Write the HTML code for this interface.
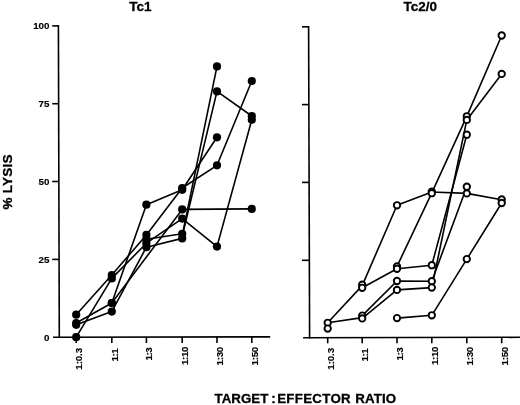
<!DOCTYPE html>
<html><head><meta charset="utf-8"><title>Tc1 / Tc2/0 lysis</title>
<style>
html,body{margin:0;padding:0;background:#fff;}
body{width:520px;height:405px;overflow:hidden;}
svg{display:block;will-change:transform;}
text{font-family:"Liberation Sans",sans-serif;font-weight:bold;fill:#000;}
.ax{stroke:#000;stroke-width:1.6;fill:none;stroke-linecap:butt;}
.ln{stroke:#000;stroke-width:1.6;fill:none;stroke-linejoin:round;}
.fc{fill:#000;stroke:none;}
.oc{fill:#fff;stroke:#000;stroke-width:1.9;}
.tk{font-size:9.8px;stroke:#000;stroke-width:0.15px;}
.tt{font-size:13.5px;stroke:#000;stroke-width:0.3px;}
</style></head><body>
<svg width="520" height="405" viewBox="0 0 520 405">
<rect width="520" height="405" fill="#fff"/>

<path class="ax" d="M58.4,25 L59.3,338"/>
<path class="ax" d="M53,337.2 L270.2,336.9"/>
<path class="ax" d="M52.2,25.9 L59,25.9"/>
<path class="ax" d="M52.2,103.7 L59,103.7"/>
<path class="ax" d="M52.2,181.5 L59,181.5"/>
<path class="ax" d="M52.2,259.4 L59,259.4"/>
<path class="ax" d="M76.2,337 L76.2,343"/>
<path class="ax" d="M111.8,337 L111.8,343"/>
<path class="ax" d="M146.4,337 L146.4,343"/>
<path class="ax" d="M182.2,337 L182.2,343"/>
<path class="ax" d="M217.0,337 L217.0,343"/>
<path class="ax" d="M251.8,337 L251.8,343"/>
<path class="ax" d="M308.6,26 L309.6,338.6"/>
<path class="ax" d="M303.1,337.8 L520,337.3"/>
<path class="ax" d="M302,26.8 L309,26.8"/>
<path class="ax" d="M302,104.6 L309,104.6"/>
<path class="ax" d="M302,182.4 L309,182.4"/>
<path class="ax" d="M302,260.3 L309,260.3"/>
<path class="ax" d="M327.7,337.5 L327.7,343.3"/>
<path class="ax" d="M362.2,337.5 L362.2,343.3"/>
<path class="ax" d="M397.0,337.5 L397.0,343.3"/>
<path class="ax" d="M431.8,337.5 L431.8,343.3"/>
<path class="ax" d="M466.8,337.5 L466.8,343.3"/>
<path class="ax" d="M501.7,337.5 L501.7,343.3"/>
<text class="tk" x="49.5" y="29.0" text-anchor="end">100</text>
<text class="tk" x="49.5" y="106.89999999999999" text-anchor="end">75</text>
<text class="tk" x="49.5" y="185.0" text-anchor="end">50</text>
<text class="tk" x="49.5" y="262.90000000000003" text-anchor="end">25</text>
<text class="tk" x="49.5" y="340.6" text-anchor="end">0</text>
<text class="tk" transform="translate(82.10000000000001,348.05) rotate(-90)" text-anchor="end" letter-spacing="-0.15">1:0.3</text>
<text class="tk" transform="translate(117.7,349.0) rotate(-90)" text-anchor="end" letter-spacing="-0.6">1:1</text>
<text class="tk" transform="translate(152.3,347.6) rotate(-90)" text-anchor="end" letter-spacing="-0.4">1:3</text>
<text class="tk" transform="translate(188.1,347.0) rotate(-90)" text-anchor="end" letter-spacing="-0.4">1:10</text>
<text class="tk" transform="translate(222.9,347.0) rotate(-90)" text-anchor="end" letter-spacing="-0.3">1:30</text>
<text class="tk" transform="translate(257.7,347.0) rotate(-90)" text-anchor="end" letter-spacing="-0.3">1:50</text>
<text class="tk" transform="translate(333.59999999999997,348.05) rotate(-90)" text-anchor="end" letter-spacing="-0.15">1:0.3</text>
<text class="tk" transform="translate(368.09999999999997,349.0) rotate(-90)" text-anchor="end" letter-spacing="-0.6">1:1</text>
<text class="tk" transform="translate(402.9,347.6) rotate(-90)" text-anchor="end" letter-spacing="-0.4">1:3</text>
<text class="tk" transform="translate(437.7,347.0) rotate(-90)" text-anchor="end" letter-spacing="-0.4">1:10</text>
<text class="tk" transform="translate(472.7,347.0) rotate(-90)" text-anchor="end" letter-spacing="-0.3">1:30</text>
<text class="tk" transform="translate(507.59999999999997,347.0) rotate(-90)" text-anchor="end" letter-spacing="-0.3">1:50</text>
<text class="tt" x="140.5" y="11.2" text-anchor="middle">Tc1</text>
<text class="tt" x="420.2" y="11.2" text-anchor="middle">Tc2/0</text>
<text class="tt" transform="translate(11.5,209.6) rotate(-90)" textLength="55" lengthAdjust="spacing">% LYSIS</text>
<text class="tt" y="403.3" style="font-size:13.3px"><tspan x="214.6">TARGET</tspan><tspan x="271.2">:</tspan><tspan x="277.2" letter-spacing="0.3">EFFECTOR</tspan><tspan x="355.2" letter-spacing="0.15">RATIO</tspan></text>
<path class="ln" d="M76.2,314.7 L111.8,275.0 L146.4,234.9 L182.2,188.0 L217.0,165.3 L251.8,81.0"/>
<path class="ln" d="M76.2,323.0 L111.8,303.0 L182.2,209.4 L251.8,208.9"/>
<path class="ln" d="M76.2,337.2 L111.8,278.4 L146.4,243.2 L182.2,218.6 L217.0,246.6 L251.8,119.7"/>
<path class="ln" d="M76.2,324.8 L111.8,311.6 L146.4,247.2 L182.2,238.4"/>
<path class="ln" d="M111.8,303.0 L146.4,204.7 L182.2,189.8 L217.0,137.3"/>
<path class="ln" d="M146.4,239.3 L182.2,233.8"/>
<path class="ln" d="M182.2,236.2 L217.0,91.4 L251.8,116.0"/>
<path class="ln" d="M182.2,235.6 L217.0,66.4"/>
<circle class="fc" cx="76.2" cy="314.7" r="4.1"/>
<circle class="fc" cx="111.8" cy="275.0" r="4.1"/>
<circle class="fc" cx="146.4" cy="234.9" r="4.1"/>
<circle class="fc" cx="182.2" cy="188.0" r="4.1"/>
<circle class="fc" cx="217.0" cy="165.3" r="4.1"/>
<circle class="fc" cx="251.8" cy="81.0" r="4.1"/>
<circle class="fc" cx="76.2" cy="323.0" r="4.1"/>
<circle class="fc" cx="111.8" cy="303.0" r="4.1"/>
<circle class="fc" cx="182.2" cy="209.4" r="4.1"/>
<circle class="fc" cx="251.8" cy="208.9" r="4.1"/>
<circle class="fc" cx="76.2" cy="337.2" r="4.1"/>
<circle class="fc" cx="111.8" cy="278.4" r="4.1"/>
<circle class="fc" cx="146.4" cy="243.2" r="4.1"/>
<circle class="fc" cx="182.2" cy="218.6" r="4.1"/>
<circle class="fc" cx="217.0" cy="246.6" r="4.1"/>
<circle class="fc" cx="251.8" cy="119.7" r="4.1"/>
<circle class="fc" cx="76.2" cy="324.8" r="4.1"/>
<circle class="fc" cx="111.8" cy="311.6" r="4.1"/>
<circle class="fc" cx="146.4" cy="247.2" r="4.1"/>
<circle class="fc" cx="182.2" cy="238.4" r="4.1"/>
<circle class="fc" cx="111.8" cy="303.0" r="4.1"/>
<circle class="fc" cx="146.4" cy="204.7" r="4.1"/>
<circle class="fc" cx="182.2" cy="189.8" r="4.1"/>
<circle class="fc" cx="217.0" cy="137.3" r="4.1"/>
<circle class="fc" cx="146.4" cy="239.3" r="4.1"/>
<circle class="fc" cx="182.2" cy="233.8" r="4.1"/>
<circle class="fc" cx="217.0" cy="91.4" r="4.1"/>
<circle class="fc" cx="251.8" cy="116.0" r="4.1"/>
<circle class="fc" cx="217.0" cy="66.4" r="4.1"/>
<path class="ln" d="M327.7,322.8 L362.2,285.6 L397.0,205.3 L431.8,192.0 L466.8,193.4 L501.7,199.8"/>
<path class="ln" d="M362.2,287.8 L397.0,268.8 L431.8,265.2 L466.8,134.7"/>
<path class="ln" d="M397.0,266.4 L431.8,192.8 L466.8,116.3 L501.7,35.5"/>
<path class="ln" d="M327.7,322.8 L362.2,317.6"/>
<path class="ln" d="M362.2,315.6 L397.0,281.0 L431.8,281.2 L466.8,186.7"/>
<path class="ln" d="M362.2,318.4 L397.0,289.9 L431.8,287.6 L466.8,119.9 L501.7,73.9"/>
<path class="ln" d="M397.0,318.1 L431.8,315.3 L466.8,259.1 L501.7,203.0"/>
<circle class="oc" cx="327.7" cy="322.8" r="3.2"/>
<circle class="oc" cx="327.7" cy="328.6" r="3.2"/>
<circle class="oc" cx="362.2" cy="284.7" r="3.2"/>
<circle class="oc" cx="362.2" cy="287.8" r="3.2"/>
<circle class="oc" cx="362.2" cy="315.6" r="3.2"/>
<circle class="oc" cx="362.2" cy="318.4" r="3.2"/>
<circle class="oc" cx="397.0" cy="205.3" r="3.2"/>
<circle class="oc" cx="397.0" cy="266.4" r="3.2"/>
<circle class="oc" cx="397.0" cy="268.8" r="3.2"/>
<circle class="oc" cx="397.0" cy="281.0" r="3.2"/>
<circle class="oc" cx="397.0" cy="289.9" r="3.2"/>
<circle class="oc" cx="397.0" cy="318.1" r="3.2"/>
<circle class="oc" cx="431.8" cy="191.6" r="3.2"/>
<circle class="oc" cx="431.8" cy="193.2" r="3.2"/>
<circle class="oc" cx="431.8" cy="265.2" r="3.2"/>
<circle class="oc" cx="431.8" cy="281.2" r="3.2"/>
<circle class="oc" cx="431.8" cy="287.6" r="3.2"/>
<circle class="oc" cx="431.8" cy="315.3" r="3.2"/>
<circle class="oc" cx="466.8" cy="116.3" r="3.2"/>
<circle class="oc" cx="466.8" cy="119.9" r="3.2"/>
<circle class="oc" cx="466.8" cy="134.7" r="3.2"/>
<circle class="oc" cx="466.8" cy="186.7" r="3.2"/>
<circle class="oc" cx="466.8" cy="193.4" r="3.2"/>
<circle class="oc" cx="466.8" cy="259.1" r="3.2"/>
<circle class="oc" cx="501.7" cy="35.5" r="3.2"/>
<circle class="oc" cx="501.7" cy="73.9" r="3.2"/>
<circle class="oc" cx="501.7" cy="199.5" r="3.2"/>
<circle class="oc" cx="501.7" cy="203.0" r="3.2"/>
</svg></body></html>
